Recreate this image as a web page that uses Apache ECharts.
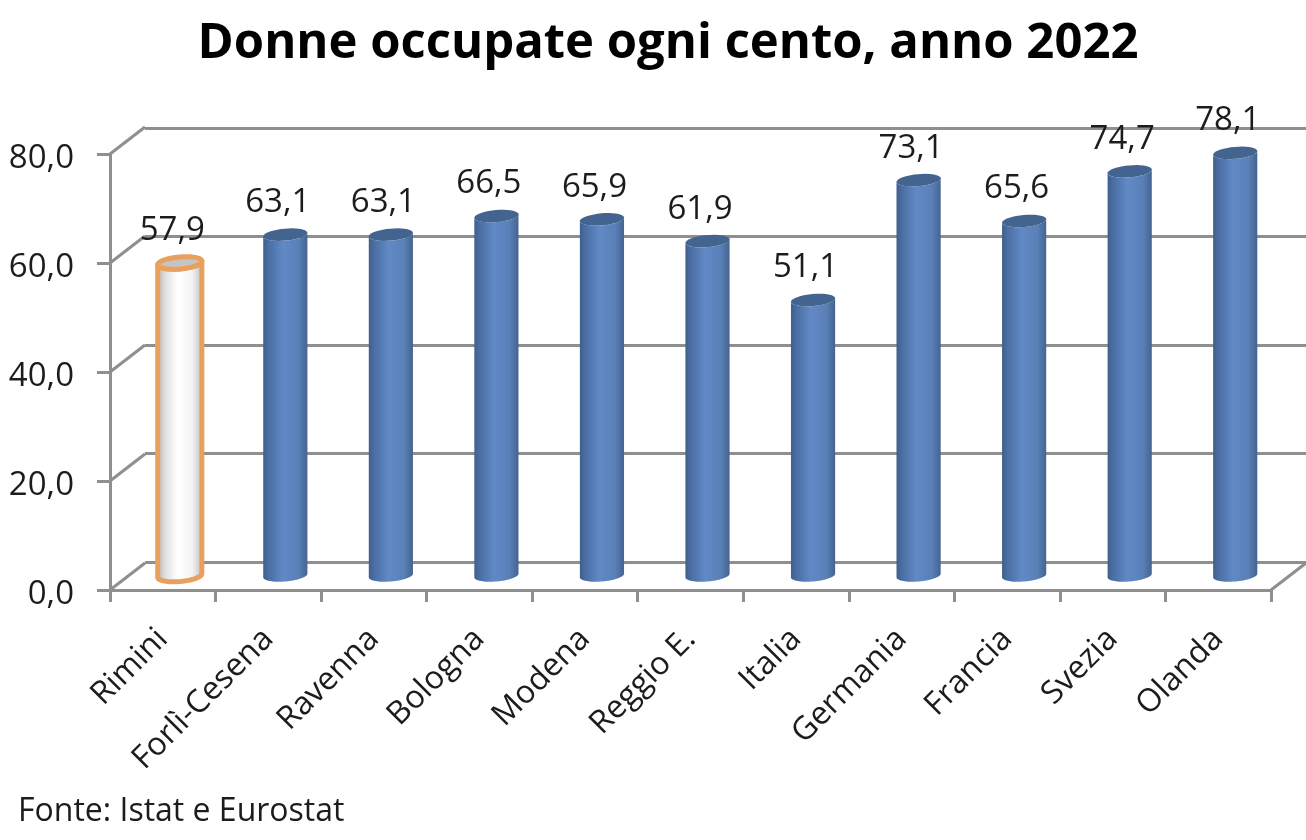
<!DOCTYPE html>
<html><head><meta charset="utf-8">
<style>html,body{margin:0;padding:0;background:#fff}#c{width:1306px;height:840px;filter:blur(0.5px)}</style>
<script src="https://cdn.jsdelivr.net/npm/echarts@6/dist/echarts.min.js"></script>
</head><body><div id="c"></div>
<script>
const categories = ['Rimini','Forlì-Cesena','Ravenna','Bologna','Modena','Reggio E.','Italia','Germania','Francia','Svezia','Olanda'];
const values = [57.9,63.1,63.1,66.5,65.9,61.9,51.1,73.1,65.6,74.7,78.1];
const yTicks = [0,20,40,60,80];
const titleText = 'Donne occupate ogni cento, anno 2022';
const sourceText = 'Fonte: Istat e Eurostat';

const FONT = '"Open Sans"';
const TEXT = '#1c1c1c', AXIS = '#8f8f8f';
const DX = 35, DY = -27;
const TILT = -5 * Math.PI / 180;
const fmt = v => v.toFixed(1).replace('.', ',');
const chart = echarts.init(document.getElementById('c'), null, {renderer:'canvas'});

function grad(stops){
  return new echarts.graphic.LinearGradient(0,0,1,0,stops.map(s=>({offset:s[0],color:s[1]})));
}
const blueGrad = () => grad([[0,'#3f5e8c'],[0.12,'#4a6ea3'],[0.45,'#6189c5'],[0.8,'#5a80b8'],[1,'#44648f']]);
const whiteGrad = () => grad([[0,'#a9a9a9'],[0.2,'#dedede'],[0.45,'#ffffff'],[0.75,'#f4f4f4'],[1,'#b5b5b5']]);

function arc(cx, cy, rx, ry, from, to){
  const pts = [], n = 36;
  for (let k = 0; k <= n; k++){
    const a = from + (to - from) * k / n;
    const ex = rx * Math.cos(a), ey = ry * Math.sin(a);
    pts.push([cx + ex * Math.cos(TILT) - ey * Math.sin(TILT), cy + ex * Math.sin(TILT) + ey * Math.cos(TILT)]);
  }
  return pts;
}
function renderCylinder(params, api){
  const idx = api.value(0), v = api.value(1);
  const top = api.coord([idx, v]), base = api.coord([idx, 0]);
  const band = api.size([1,0])[0];
  const cx = top[0] + DX/2 - 0.5, yTop = top[1] + DY/2 + 2, yBot = base[1] + DY/2 - 1;
  const rx = band*0.21, ry = 6;
  const highlight = idx === 0;
  const sidePts = arc(cx, yBot, rx, ry, Math.PI, 0).concat(arc(cx, yTop, rx, ry, 0, Math.PI));
  const topPts = arc(cx, yTop, rx, ry, 0, 2*Math.PI);
  const stroke = highlight ? {stroke:'#e9a05e',lineWidth:5,lineJoin:'round'} : {};
  return {type:'group',children:[
    {type:'polygon',shape:{points:sidePts},style:Object.assign({fill:highlight?whiteGrad():blueGrad()},stroke)},
    {type:'polygon',shape:{points:topPts},style:Object.assign({fill:highlight?'#c4c4c4':'#43648f'},stroke)},
    {type:'text',z2:50,style:{text:fmt(v),x:cx-7.5,y:yTop-32,align:'center',verticalAlign:'middle',
      font:'33px '+FONT,fill:TEXT}}
  ]};
}
function renderDiagonal(params, api){
  const band = api.size([1,0])[0];
  const p = api.coord([api.value(0), api.value(1)]);
  const side = api.value(2);
  const x = p[0] + side*band/2;
  return {type:'line',shape:{x1:x,y1:p[1],x2:x+DX,y2:p[1]+DY},style:{stroke:AXIS,lineWidth:3}};
}
const diagonals = yTicks.map(v=>[0,v,-1]).concat([[categories.length-1,0,1]]);

chart.setOption({
  animation:false,
  backgroundColor:'#fff',
  title:{text:titleText,left:663,top:15,textAlign:'center',
    textStyle:{fontFamily:FONT,fontSize:49,fontWeight:'bold',color:'#000'}},
  graphic:[{type:'text',left:18,top:796,style:{text:sourceText,font:'32px '+FONT,fill:TEXT}}],
  grid:[
    {left:110,right:35,top:154,height:436},
    {left:145,right:0,top:128,height:434}
  ],
  xAxis:[
    {type:'category',gridIndex:0,data:categories,boundaryGap:true,
      axisLine:{onZero:false,lineStyle:{color:AXIS,width:3}},
      axisTick:{show:true,length:12,lineStyle:{color:AXIS,width:3}},
      axisLabel:{rotate:45,margin:44,interval:0,color:TEXT,fontFamily:FONT,fontSize:32}},
    {type:'category',gridIndex:1,data:categories,show:false}
  ],
  yAxis:[
    {type:'value',gridIndex:0,min:0,max:80,interval:20,
      axisLine:{show:true,lineStyle:{color:AXIS,width:3}},
      axisTick:{show:true,length:13,lineStyle:{color:AXIS,width:3}},
      splitLine:{show:false},
      axisLabel:{margin:36,formatter:v=>'{a|'+fmt(v)+'}',
        rich:{a:{color:TEXT,fontFamily:FONT,fontSize:33,padding:[10,0,0,0]}}}},
    {type:'value',gridIndex:1,min:0,max:80,interval:20,
      axisLine:{show:false},axisTick:{show:false},axisLabel:{show:false},
      splitLine:{show:true,lineStyle:{color:AXIS,width:3}}}
  ],
  series:[
    {type:'custom',xAxisIndex:0,yAxisIndex:0,z:1,clip:false,silent:true,
      renderItem:renderDiagonal,data:diagonals,encode:{x:0,y:1}},
    {type:'custom',xAxisIndex:0,yAxisIndex:0,z:5,clip:false,
      renderItem:renderCylinder,data:values.map((v,i)=>[i,v]),encode:{x:0,y:1}}
  ]
});
</script></body></html>
